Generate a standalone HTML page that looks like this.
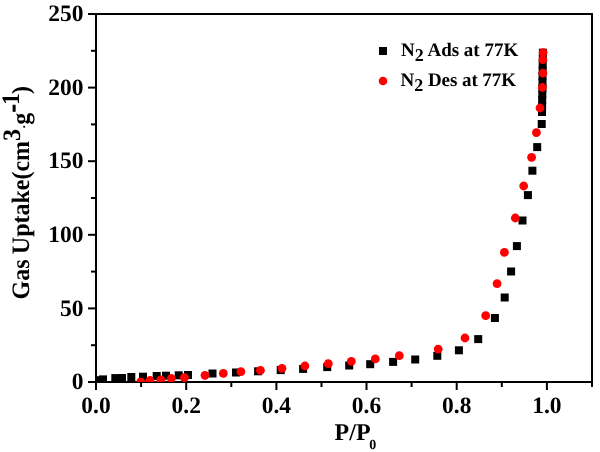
<!DOCTYPE html>
<html><head><meta charset="utf-8"><title>N2 isotherm</title>
<style>
html,body{margin:0;padding:0;background:#fff;}
svg{display:block;will-change:transform;}
text{font-family:"Liberation Serif",serif;font-weight:bold;fill:#000;text-rendering:geometricPrecision;}
</style></head><body>
<svg width="600" height="452" viewBox="0 0 600 452">
<rect width="600" height="452" fill="#fff"/>
<defs><clipPath id="c"><rect x="96" y="14" width="496" height="368"/></clipPath></defs>

<g stroke="#000" stroke-width="2" fill="none" stroke-linecap="butt">
<rect x="96" y="14" width="496" height="368"/>
<line x1="88" y1="382.0" x2="96" y2="382.0"/>
<line x1="91" y1="345.2" x2="96" y2="345.2"/>
<line x1="88" y1="308.4" x2="96" y2="308.4"/>
<line x1="91" y1="271.6" x2="96" y2="271.6"/>
<line x1="88" y1="234.8" x2="96" y2="234.8"/>
<line x1="91" y1="198.0" x2="96" y2="198.0"/>
<line x1="88" y1="161.2" x2="96" y2="161.2"/>
<line x1="91" y1="124.4" x2="96" y2="124.4"/>
<line x1="88" y1="87.6" x2="96" y2="87.6"/>
<line x1="91" y1="50.8" x2="96" y2="50.8"/>
<line x1="88" y1="14.0" x2="96" y2="14.0"/>
<line x1="96.0" y1="382" x2="96.0" y2="390"/>
<line x1="141.1" y1="382" x2="141.1" y2="387"/>
<line x1="186.2" y1="382" x2="186.2" y2="390"/>
<line x1="231.3" y1="382" x2="231.3" y2="387"/>
<line x1="276.4" y1="382" x2="276.4" y2="390"/>
<line x1="321.5" y1="382" x2="321.5" y2="387"/>
<line x1="366.5" y1="382" x2="366.5" y2="390"/>
<line x1="411.6" y1="382" x2="411.6" y2="387"/>
<line x1="456.7" y1="382" x2="456.7" y2="390"/>
<line x1="501.8" y1="382" x2="501.8" y2="387"/>
<line x1="546.9" y1="382" x2="546.9" y2="390"/>
<line x1="592.0" y1="382" x2="592.0" y2="387"/>
</g>
<g clip-path="url(#c)">
<g fill="#000">
<rect x="93.0" y="376.2" width="8" height="8"/>
<rect x="99.0" y="375.4" width="8" height="8"/>
<rect x="111.3" y="374.1" width="8" height="8"/>
<rect x="118.0" y="374.0" width="8" height="8"/>
<rect x="127.3" y="373.0" width="8" height="8"/>
<rect x="139.0" y="372.7" width="8" height="8"/>
<rect x="152.7" y="372.0" width="8" height="8"/>
<rect x="162.0" y="371.7" width="8" height="8"/>
<rect x="174.7" y="371.3" width="8" height="8"/>
<rect x="184.0" y="371.0" width="8" height="8"/>
<rect x="208.5" y="369.5" width="8" height="8"/>
<rect x="232.0" y="368.5" width="8" height="8"/>
<rect x="254.1" y="367.3" width="8" height="8"/>
<rect x="276.7" y="366.1" width="8" height="8"/>
<rect x="299.1" y="364.9" width="8" height="8"/>
<rect x="323.2" y="363.1" width="8" height="8"/>
<rect x="345.2" y="361.5" width="8" height="8"/>
<rect x="366.2" y="360.2" width="8" height="8"/>
<rect x="389.1" y="357.9" width="8" height="8"/>
<rect x="411.2" y="355.5" width="8" height="8"/>
<rect x="433.3" y="351.8" width="8" height="8"/>
<rect x="454.9" y="346.3" width="8" height="8"/>
<rect x="474.2" y="335.1" width="8" height="8"/>
<rect x="490.9" y="314.0" width="8" height="8"/>
<rect x="500.7" y="293.5" width="8" height="8"/>
<rect x="507.1" y="267.5" width="8" height="8"/>
<rect x="512.9" y="242.1" width="8" height="8"/>
<rect x="518.5" y="216.5" width="8" height="8"/>
<rect x="523.9" y="191.1" width="8" height="8"/>
<rect x="528.4" y="166.7" width="8" height="8"/>
<rect x="533.2" y="143.1" width="8" height="8"/>
<rect x="537.7" y="120.0" width="8" height="8"/>
<rect x="538.0" y="108.0" width="8" height="8"/>
<rect x="538.1" y="102.1" width="8" height="8"/>
<rect x="538.2" y="96.1" width="8" height="8"/>
<rect x="538.3" y="90.2" width="8" height="8"/>
<rect x="538.4" y="84.3" width="8" height="8"/>
<rect x="538.5" y="78.3" width="8" height="8"/>
<rect x="538.5" y="72.4" width="8" height="8"/>
<rect x="538.6" y="66.5" width="8" height="8"/>
<rect x="538.7" y="60.6" width="8" height="8"/>
<rect x="538.8" y="54.6" width="8" height="8"/>
<rect x="538.9" y="48.7" width="8" height="8"/>
</g><g fill="#f00">
<circle cx="140.7" cy="381.8" r="4.4"/>
<circle cx="150" cy="380.5" r="4.4"/>
<circle cx="160.8" cy="379.8" r="4.4"/>
<circle cx="171.3" cy="378.5" r="4.4"/>
<circle cx="184.4" cy="377.7" r="4.4"/>
<circle cx="205" cy="375.3" r="4.4"/>
<circle cx="223.3" cy="373.4" r="4.4"/>
<circle cx="240.9" cy="371.7" r="4.4"/>
<circle cx="260.4" cy="370.3" r="4.4"/>
<circle cx="282" cy="368.3" r="4.4"/>
<circle cx="304.9" cy="366" r="4.4"/>
<circle cx="328.3" cy="363.7" r="4.4"/>
<circle cx="351.3" cy="361.3" r="4.4"/>
<circle cx="375.3" cy="358.9" r="4.4"/>
<circle cx="399.3" cy="355.7" r="4.4"/>
<circle cx="438.2" cy="349.1" r="4.4"/>
<circle cx="465" cy="338" r="4.4"/>
<circle cx="485.7" cy="315.7" r="4.4"/>
<circle cx="497.1" cy="283.7" r="4.4"/>
<circle cx="504.4" cy="252.4" r="4.4"/>
<circle cx="515.3" cy="218" r="4.4"/>
<circle cx="523.7" cy="186" r="4.4"/>
<circle cx="531.6" cy="157.3" r="4.4"/>
<circle cx="536.4" cy="132.7" r="4.4"/>
<circle cx="540" cy="108" r="4.4"/>
<circle cx="542.4" cy="87.5" r="4.4"/>
<circle cx="542.9" cy="73.1" r="4.4"/>
<circle cx="542.9" cy="59.7" r="4.4"/>
<circle cx="543.1" cy="52.7" r="4.4"/>
</g></g>
<g font-size="23.5" text-anchor="end">
<text transform="translate(83.5,389.2) scale(1,1.0)">0</text>
<text transform="translate(83.5,315.6) scale(1,1.0)">50</text>
<text transform="translate(83.5,242.0) scale(1,1.0)">100</text>
<text transform="translate(83.5,168.4) scale(1,1.0)">150</text>
<text transform="translate(83.5,94.8) scale(1,1.0)">200</text>
<text transform="translate(83.5,21.2) scale(1,1.0)">250</text>
</g><g font-size="23.5" text-anchor="middle">
<text transform="translate(96.0,412.5) scale(1,1.0)">0.0</text>
<text transform="translate(186.2,412.5) scale(1,1.0)">0.2</text>
<text transform="translate(276.4,412.5) scale(1,1.0)">0.4</text>
<text transform="translate(366.5,412.5) scale(1,1.0)">0.6</text>
<text transform="translate(456.7,412.5) scale(1,1.0)">0.8</text>
<text transform="translate(546.9,412.5) scale(1,1.0)">1.0</text>
</g>
<text transform="translate(334.6,440) scale(1,1.0)" font-size="24">P/P<tspan font-size="14" dy="9" dx="-1.3">0</tspan></text>
<text transform="translate(29.2,299.5) rotate(-90) scale(1,1.045)" font-size="24" word-spacing="-0.7">Gas Uptake(cm<tspan font-size="24" dy="-8.4">3</tspan><tspan dy="4.4" dx="0.7" font-size="12">.</tspan><tspan dy="4" dx="0.5">g</tspan><tspan font-size="24" dy="-9.1" dx="0.4" stroke="#000" stroke-width="0.8">-</tspan><tspan font-size="24" dy="-0.3" dx="-0.8">1</tspan><tspan dy="9.4" dx="-0.8">)</tspan></text>
<rect x="379" y="47" width="8" height="8" fill="#000"/>
<circle cx="383" cy="81" r="4.3" fill="#f00"/>
<text transform="translate(401,56.2) scale(1,1.0)" font-size="19">N<tspan font-size="18" dy="5.2">2</tspan><tspan dy="-5.2"> Ads at 77K</tspan></text>
<text transform="translate(400.6,86.2) scale(1,1.0)" font-size="19" letter-spacing="-0.06">N<tspan font-size="18" dy="5.2">2</tspan><tspan dy="-5.2"> Des at 77K</tspan></text>
</svg></body></html>
